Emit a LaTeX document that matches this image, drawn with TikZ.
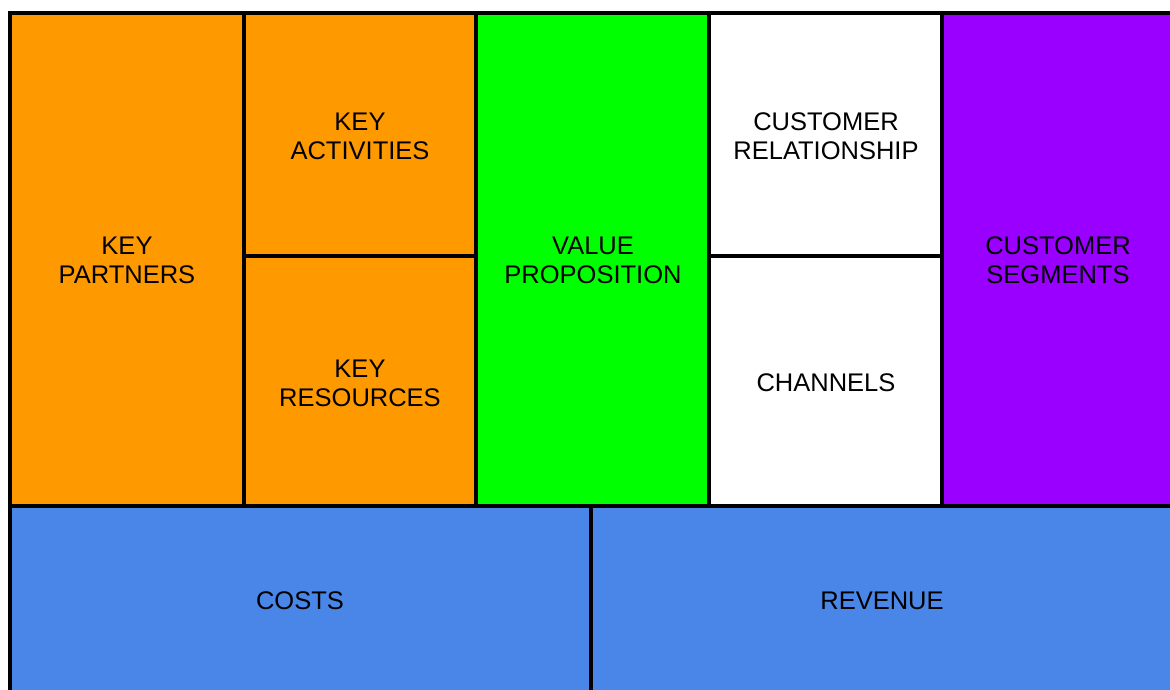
\documentclass[tikz,border=0pt]{standalone}
\usepackage{fontspec}
\setmainfont{Liberation Sans}
\definecolor{korange}{HTML}{FF9900}
\definecolor{kgreen}{HTML}{00FF00}
\definecolor{kpurple}{HTML}{9900FF}
\definecolor{kblue}{HTML}{4A86E8}
\tikzset{
  cell/.style={draw=black, line width=3.2pt},
  lbl/.style={font=\fontsize{25.5}{29}\selectfont, align=center, text=black, inner sep=0pt}
}
\begin{document}
\begin{tikzpicture}[x=1pt,y=-1pt]
\useasboundingbox (0,0) rectangle (1170,689);
\begin{scope}
\clip (0,0) rectangle (1170,689);
% cells
\draw[cell, fill=korange] (10,13) rectangle (244,506);
\draw[cell, fill=korange] (244,13) rectangle (476,256);
\draw[cell, fill=korange] (244,256) rectangle (476,506);
\draw[cell, fill=kgreen] (476,13) rectangle (709,506);
\draw[cell, fill=white] (709,13) rectangle (942,256);
\draw[cell, fill=white] (709,256) rectangle (942,506);
\draw[cell, fill=kpurple] (942,13) rectangle (1175,506);
\draw[cell, fill=kblue] (10,506) rectangle (591,695);
\draw[cell, fill=kblue] (591,506) rectangle (1175,695);
\end{scope}
% labels
\node[lbl] (kp) at (127,260) {KEY\\PARTNERS};
\node[lbl] (ka) at (360,136) {KEY\\ACTIVITIES};
\node[lbl] (kr) at (360,383) {KEY\\RESOURCES};
\node[lbl] (vp) at (593,260) {VALUE\\PROPOSITION};
\node[lbl] (cr) at (826,136) {CUSTOMER\\RELATIONSHIP};
\node[lbl] (ch) at (826,383) {CHANNELS};
\node[lbl] (cs) at (1058,260) {CUSTOMER\\SEGMENTS};
\node[lbl] (co) at (300,601) {COSTS};
\node[lbl] (re) at (882,601) {REVENUE};
\end{tikzpicture}
\end{document}
